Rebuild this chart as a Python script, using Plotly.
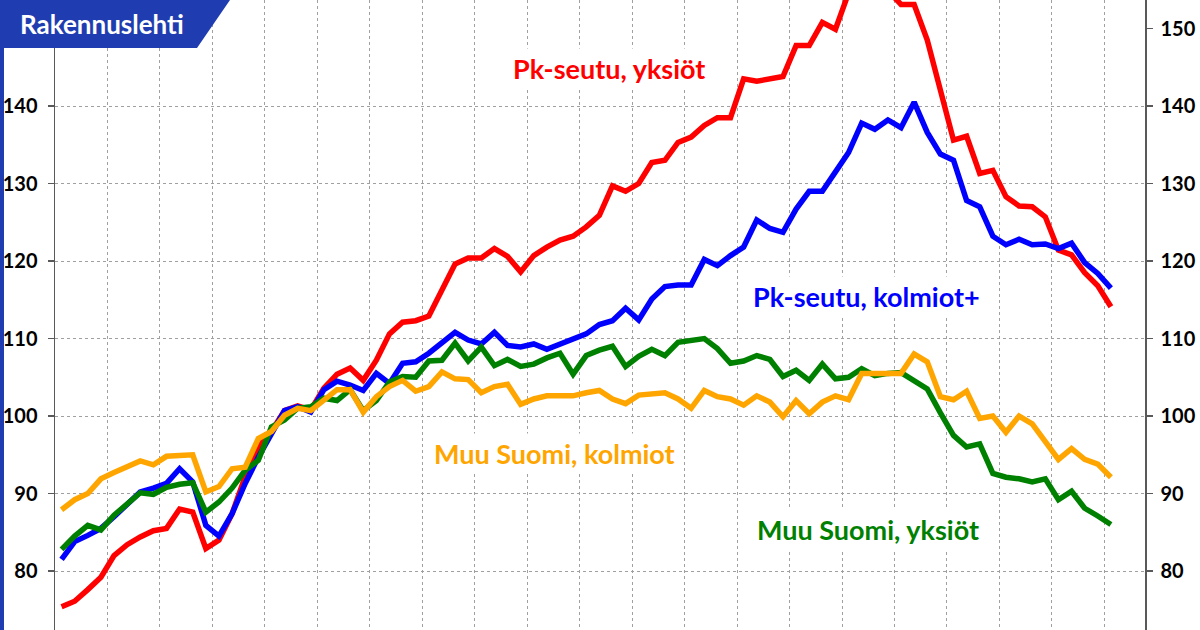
import plotly.graph_objects as go

# Quarterly index (81 observations); two trailing empty category slots on the axis
quarter_index = list(range(81))

pk_yksiot = [75.4, 76.1, 77.6, 79.2, 82.0, 83.4, 84.4, 85.2, 85.5, 88.0,
             87.6, 82.9, 84.0, 87.4, 92.2, 96.0, 98.0, 100.7, 101.3, 100.8,
             103.6, 105.4, 106.2, 104.6, 107.2, 110.6, 112.1, 112.3, 112.9, 116.4,
             119.6, 120.4, 120.4, 121.6, 120.6, 118.6, 120.7, 121.8, 122.7, 123.2,
             124.4, 125.9, 129.7, 129.0, 130.0, 132.7, 133.0, 135.3, 136.0, 137.5,
             138.5, 138.5, 143.5, 143.2, 143.5, 143.8, 147.8, 147.8, 150.8, 149.9,
             154.6, 156.2, 155.6, 154.9, 153.1, 153.1, 148.5, 142.1, 135.6, 136.1,
             131.3, 131.7, 128.3, 127.1, 127.0, 125.7, 121.4, 120.8, 118.5, 116.8,
             114.1]

pk_kolmiot = [81.5, 83.8, 84.6, 85.5, 87.0, 88.7, 90.2, 90.7, 91.3, 93.2,
              91.5, 85.9, 84.5, 87.4, 91.3, 94.7, 97.7, 100.7, 101.2, 100.5,
              103.4, 104.5, 104.0, 103.3, 105.5, 104.2, 106.8, 107.0, 108.1, 109.5,
              110.8, 109.8, 109.3, 110.8, 109.1, 108.9, 109.3, 108.6, 109.3, 110.0,
              110.6, 111.8, 112.3, 113.9, 112.4, 115.1, 116.7, 116.9, 116.9, 120.2,
              119.4, 120.7, 121.8, 125.3, 124.2, 123.7, 126.7, 129.0, 129.0, 131.5,
              134.0, 137.8, 137.0, 138.2, 137.2, 140.5, 136.6, 133.8, 133.0, 127.8,
              127.0, 123.2, 122.1, 122.8, 122.1, 122.2, 121.6, 122.3, 119.8, 118.4,
              116.5]

muu_yksiot = [82.8, 84.5, 85.9, 85.3, 87.2, 88.7, 90.1, 89.9, 90.8, 91.2,
              91.4, 87.6, 88.9, 90.7, 93.0, 94.3, 98.6, 99.5, 101.0, 101.2,
              102.3, 102.0, 103.4, 100.7, 102.0, 104.4, 105.1, 105.0, 107.1, 107.2,
              109.4, 107.1, 108.9, 106.5, 107.3, 106.4, 106.7, 107.5, 108.1, 105.4,
              107.8, 108.5, 109.0, 106.4, 107.7, 108.6, 107.8, 109.5, 109.7, 110.0,
              108.7, 106.8, 107.1, 107.8, 107.3, 105.1, 105.9, 104.6, 106.7, 104.8,
              105.0, 106.1, 105.2, 105.5, 105.6, 104.6, 103.5, 100.4, 97.5, 96.0,
              96.4, 92.6, 92.1, 91.9, 91.5, 91.9, 89.2, 90.3, 88.1, 87.1,
              86.0]

muu_kolmiot = [87.9, 89.2, 90.0, 91.9, 92.7, 93.4, 94.2, 93.7, 94.8, 94.9,
               95.0, 90.2, 90.9, 93.2, 93.4, 97.1, 98.0, 100.1, 101.0, 100.7,
               102.0, 103.4, 103.4, 100.5, 102.5, 103.8, 104.6, 103.2, 103.8, 105.7,
               104.8, 104.7, 103.0, 103.8, 104.1, 101.5, 102.2, 102.6, 102.6, 102.6,
               103.0, 103.3, 102.2, 101.6, 102.7, 102.9, 103.0, 102.2, 101.0, 103.3,
               102.5, 102.2, 101.4, 102.6, 101.8, 99.9, 102.0, 100.3, 101.8, 102.6,
               102.1, 105.5, 105.5, 105.5, 105.5, 108.0, 107.0, 102.5, 102.1, 103.2,
               99.7, 100.0, 97.9, 100.0, 99.0, 96.7, 94.4, 95.8, 94.4, 93.8,
               92.1]

series_names = ["Pk-seutu, yksiöt", "Pk-seutu, kolmiot+", "Muu Suomi, yksiöt", "Muu Suomi, kolmiot"]
series_values = [pk_yksiot, pk_kolmiot, muu_yksiot, muu_kolmiot]
series_colors = ["#FF0000", "#0000FF", "#008000", "#FFA500"]

left_ticks = [80, 90, 100, 110, 120, 130, 140]
right_ticks = [80, 90, 100, 110, 120, 130, 140, 150]
grid_x = [-0.5 + 4 * k for k in range(1, 21)]

Y_RANGE = [72.39, 153.68]
X_RANGE = [-0.5, 82.6]
FONT = "Lato, 'Open Sans', sans-serif"

fig = go.Figure()
for name, vals, col in zip(series_names, series_values, series_colors):
    fig.add_trace(go.Scatter(x=quarter_index, y=vals, mode="lines", name=name,
                             line=dict(color=col, width=5.5), hoverinfo="skip"))
# dummy trace to anchor the right-hand axis
fig.add_trace(go.Scatter(x=[None], y=[None], yaxis="y2", showlegend=False, hoverinfo="skip"))

axis_line = "#595959"
grid_col = "#A0A0A0"

fig.update_layout(
    width=1200, height=630,
    margin=dict(l=55, r=55, t=0, b=0, autoexpand=False),
    paper_bgcolor="white", plot_bgcolor="white",
    showlegend=False,
    font=dict(family=FONT, color="black"),
    xaxis=dict(range=X_RANGE, tickmode="array", tickvals=grid_x, showticklabels=False,
               ticks="", showgrid=True, gridcolor=grid_col, gridwidth=1, griddash="3px,3px",
               zeroline=False, showline=False, fixedrange=True, automargin=False),
    yaxis=dict(range=Y_RANGE, tickmode="array", tickvals=left_ticks,
               ticks="outside", ticklen=6, tickcolor=axis_line, tickwidth=1.5,
               showgrid=True, gridcolor=grid_col, gridwidth=1, griddash="3px,3px",
               zeroline=False, showline=True, linecolor=axis_line, linewidth=1.5,
               tickfont=dict(family=FONT, size=20, color="black", weight="bold"),
               ticklabelstandoff=6, automargin=False, fixedrange=True),
    yaxis2=dict(range=Y_RANGE, overlaying="y", side="right", tickmode="array",
                tickvals=right_ticks, ticks="outside", ticklen=6, tickcolor=axis_line,
                tickwidth=1.5, showgrid=False, zeroline=False, showline=True,
                linecolor=axis_line, linewidth=1.5,
                tickfont=dict(family=FONT, size=20, color="black", weight="bold"),
                ticklabelstandoff=4, automargin=False, fixedrange=True),
)

# Series labels (order matches series_names)
label_pos = [(41.7, 144.8), (61.4, 115.4), (61.5, 85.4), (37.6, 95.2)]
for name, col, (lx, ly) in zip(series_names, series_colors, label_pos):
    fig.add_annotation(x=lx, y=ly, xref="x", yref="y", text=name, showarrow=False,
                       font=dict(family=FONT, size=27, color=col, weight="bold"),
                       bgcolor="white", borderpad=3, xanchor="center", yanchor="middle")

# Banner (paper coords: plot area spans x 55..1145 px, y full height)
def px(xp):
    return (xp - 55) / 1090

def py(yp):
    return 1 - yp / 630

banner_col = "#1F3DB0"
path = (f"M {px(0)},{py(0)} L {px(230)},{py(0)} L {px(197)},{py(48)} L {px(4)},{py(48)} "
        f"L {px(4)},{py(630)} L {px(0)},{py(630)} Z")
fig.add_shape(type="path", path=path, xref="paper", yref="paper",
              fillcolor=banner_col, line=dict(width=0), layer="above")
fig.add_annotation(x=px(18), y=py(24), xref="paper", yref="paper", text="Rakennuslehti",
                   showarrow=False, xanchor="left", yanchor="middle",
                   font=dict(family=FONT, size=26, color="white", weight="bold"))

fig.write_html("out.html",
               config={"displayModeBar": False, "staticPlot": True},
               post_script="document.body.style.margin='0';document.body.style.padding='0';"
                           "document.body.style.overflow='hidden';")
